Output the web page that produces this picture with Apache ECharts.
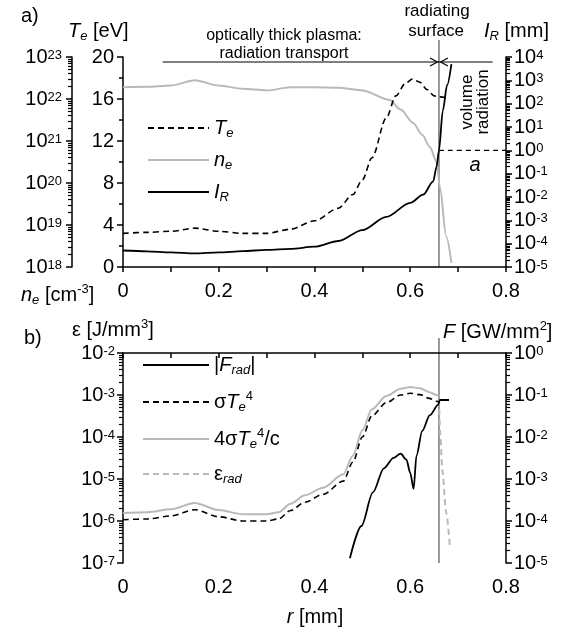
<!DOCTYPE html>
<html>
<head>
<meta charset="utf-8">
<script src="https://cdn.jsdelivr.net/npm/echarts@6/dist/echarts.min.js"></script>
<style>
html, body { margin: 0; padding: 0; background: #fff; }
#main { width: 579px; height: 635px; }
</style>
</head>
<body>
<div id="main"></div>
<script>
// ---- panel a) ----
const R_TE = [0, 0.05, 0.1, 0.15, 0.2, 0.25, 0.3, 0.35, 0.4, 0.45, 0.48, 0.5, 0.52, 0.55, 0.57, 0.59, 0.605, 0.62, 0.635, 0.65, 0.66, 0.682];
const TE = [3.2, 3.3, 3.4, 3.7, 3.4, 3.2, 3.2, 3.6, 4.4, 5.6, 6.9, 8.3, 10.4, 14.2, 16.3, 17.5, 17.9, 17.6, 16.9, 16.3, 16.2, 16.1];

const R_NE = [0, 0.05, 0.1, 0.15, 0.2, 0.25, 0.3, 0.35, 0.4, 0.45, 0.5, 0.557, 0.58, 0.606, 0.625, 0.641, 0.655, 0.662, 0.675, 0.686];
const NE = [1.9e22, 1.95e22, 2.1e22, 2.8e22, 2.1e22, 1.75e22, 1.6e22, 1.9e22, 1.9e22, 1.85e22, 1.6e22, 9.5e21, 5.6e21, 2.7e21, 1.4e21, 7.2e20, 3.2e20, 7.9e19, 5.4e18, 1.25e18];

const R_IR = [0, 0.05, 0.1, 0.15, 0.2, 0.25, 0.3, 0.35, 0.4, 0.45, 0.5, 0.55, 0.6, 0.627, 0.648, 0.655, 0.66, 0.668, 0.677, 0.686];
const IR = [5.1e-5, 4.7e-5, 4.2e-5, 3.8e-5, 4.2e-5, 4.8e-5, 5.4e-5, 6e-5, 7.4e-5, 1.3e-4, 3.8e-4, 1.4e-3, 5.6e-3, 1.26e-2, 4.7e-2, 0.2, 1.0, 50, 630, 5000];

const A_R = [0.66, 0.8];
const A_IR = [1, 1];

// ---- panel b) ----
const R_SIG = [0, 0.05, 0.1, 0.15, 0.2, 0.25, 0.3, 0.325, 0.35, 0.38, 0.418, 0.46, 0.48, 0.5, 0.52, 0.55, 0.58, 0.6, 0.62, 0.64, 0.655, 0.66];
const SIG_T4 = [1.07e-6, 1.12e-6, 1.32e-6, 1.86e-6, 1.26e-6, 1.0e-6, 1.0e-6, 1.12e-6, 1.78e-6, 2.8e-6, 4.3e-6, 8.9e-6, 2.5e-5, 1e-4, 3.2e-4, 6.6e-4, 1e-3, 1.1e-3, 1.02e-3, 8.3e-4, 7.1e-4, 6.8e-4];
const SIG_T4_C = [1.55e-6, 1.62e-6, 1.9e-6, 2.7e-6, 1.82e-6, 1.45e-6, 1.45e-6, 1.62e-6, 2.57e-6, 4.1e-6, 6.2e-6, 1.29e-5, 3.6e-5, 1.45e-4, 4.6e-4, 9.5e-4, 1.41e-3, 1.55e-3, 1.45e-3, 1.17e-3, 1.0e-3, 9.3e-4];

const R_FRAD = [0.474, 0.498, 0.522, 0.545, 0.565, 0.58, 0.592, 0.6, 0.607, 0.613, 0.625, 0.641, 0.658, 0.662, 0.681];
const FRAD = [1.3e-5, 7.6e-5, 4.8e-4, 1.8e-3, 3.2e-3, 4e-3, 2.9e-3, 1.4e-3, 5.8e-4, 3.6e-3, 1.4e-2, 3.3e-2, 5.8e-2, 7.6e-2, 7.6e-2];

const R_ERAD = [0.66, 0.663, 0.667, 0.675, 0.683];
const ERAD = [7.9e-4, 1e-4, 1.6e-5, 1.6e-6, 2.3e-7];

// axis ticks (exponents for log axes)
const X_TICKS = [0, 0.2, 0.4, 0.6, 0.8];
const NE_EXP = [18, 19, 20, 21, 22, 23];
const IR_EXP = [-5, -4, -3, -2, -1, 0, 1, 2, 3, 4];
const EPS_EXP = [-7, -6, -5, -4, -3, -2];
const F_EXP = [-5, -4, -3, -2, -1, 0];

const SURFACE_R = 0.66;
const ARROW_R = [0.083, 0.772];

const FONT = '"Liberation Sans", Arial, sans-serif';
const GRAY = '#b9b9b9';

const chart = echarts.init(document.getElementById('main'));

function zip(xs, ys) { return xs.map((x, i) => [x, ys[i]]); }

function minorOf(exps) {
  let out = [];
  for (let i = 0; i < exps.length - 1; i++) {
    for (let m = 2; m <= 9; m++) out.push(exps[i] + Math.log10(m));
  }
  return out;
}

const rich = {
  i: { fontStyle: 'italic', fontSize: 20, lineHeight: 24, fontFamily: FONT },
  sb: { fontStyle: 'italic', fontSize: 13, lineHeight: 13, verticalAlign: 'bottom', fontFamily: FONT },
  sp: { fontSize: 13, lineHeight: 13, verticalAlign: 'top', fontFamily: FONT },
  n: { fontSize: 20, lineHeight: 24, fontFamily: FONT }
};
// tighter version for tick labels
const richTick = {
  n: { fontSize: 20, lineHeight: 17, fontFamily: FONT },
  sp: { fontSize: 13, lineHeight: 10, verticalAlign: 'top', fontFamily: FONT }
};

const lineBlack = { color: '#000', width: 1.5 };

function xAx(gi) {
  return {
    type: 'value', gridIndex: gi, min: 0, max: 0.8, interval: 0.1,
    axisLine: { lineStyle: lineBlack },
    axisTick: { length: 5, lineStyle: lineBlack },
    splitLine: { show: false },
    axisLabel: {
      margin: 14, fontSize: 20, color: '#000', fontFamily: FONT,
      formatter: v => {
        let k = Math.round(v * 10);
        if (k % 2 !== 0) return '';
        return X_TICKS.indexOf(k / 10) >= 0 ? (k === 0 ? '0' : (k / 10).toFixed(1)) : '';
      }
    }
  };
}

// label axis in exponent space (linear) + a minor tick overlay
function expAxes(gi, pos, offset, exps, margin) {
  const lab = {
    type: 'value', gridIndex: gi, position: pos, offset: offset,
    min: exps[0], max: exps[exps.length - 1], interval: 1,
    axisLine: { show: true, lineStyle: lineBlack },
    axisTick: { show: true, length: 6, lineStyle: lineBlack },
    splitLine: { show: false },
    axisLabel: {
      margin: margin, color: '#000', fontSize: 20, lineHeight: 17, fontFamily: FONT,
      interval: 0, showMinLabel: true, showMaxLabel: true, hideOverlap: false,
      formatter: v => '{n|10}{sp|' + Math.round(v) + '}', rich: richTick
    }
  };
  const minor = minorOf(exps);
  const mnr = {
    type: 'value', gridIndex: gi, position: pos, offset: offset,
    min: exps[0], max: exps[exps.length - 1],
    axisLine: { show: false },
    axisTick: { show: true, length: 4, customValues: minor, lineStyle: { color: '#000', width: 1.2 } },
    axisLabel: { show: false, customValues: minor },
    splitLine: { show: false }
  };
  return [lab, mnr];
}

function logAx(gi, pos, exps) {
  return {
    type: 'log', gridIndex: gi, position: pos, show: false,
    min: Math.pow(10, exps[0]), max: Math.pow(10, exps[exps.length - 1])
  };
}

const yAxes = [
  {
    type: 'value', gridIndex: 0, position: 'left', min: 0, max: 20, interval: 4,
    axisLine: { show: true, lineStyle: lineBlack },
    axisTick: { length: 6, lineStyle: lineBlack },
    minorTick: { show: true, splitNumber: 2, length: 4, lineStyle: lineBlack },
    splitLine: { show: false },
    axisLabel: { margin: 9, color: '#000', fontSize: 20, fontFamily: FONT }
  },
  logAx(0, 'left', NE_EXP),                    // 1 ne data
  ...expAxes(0, 'left', 51, NE_EXP, 10),       // 2,3
  logAx(0, 'right', IR_EXP),                   // 4 IR data
  ...expAxes(0, 'right', 0, IR_EXP, 8),        // 5,6
  logAx(1, 'left', EPS_EXP),                   // 7 eps data
  ...expAxes(1, 'left', 0, EPS_EXP, 8),        // 8,9
  logAx(1, 'right', F_EXP),                    // 10 F data
  ...expAxes(1, 'right', 0, F_EXP, 8)          // 11,12
];

const DASH = [6, 4];

const legendNames = {
  Te: '{i|T}{sb|e}',
  ne: '{i|n}{sb|e}',
  IR: '{i|I}{sb|R}',
  Frad: '{n||}{i|F}{sb|rad}{n||}',
  sT4: '{n|σ}{i|T}{sb|e}{sp|4}',
  sT4c: '{n|4σ}{i|T}{sb|e}{sp|4}{n|/c}',
  erad: '{n|ε}{sb|rad}'
};

function line(name, xi, yi, data, color, width, dash, z) {
  return {
    name: name, type: 'line', xAxisIndex: xi, yAxisIndex: yi, data: data,
    symbol: 'none', smooth: 0.3, smoothMonotone: 'x', z: z || 2,
    lineStyle: { color: color, width: width, type: dash || 'solid' },
    itemStyle: { color: color },
    emphasis: { disabled: true }
  };
}

const legendBase = {
  orient: 'vertical', selectedMode: false,
  itemStyle: { opacity: 0 },
  formatter: n => legendNames[n],
  textStyle: { color: '#000', fontSize: 20, fontFamily: FONT, rich: rich }
};

chart.setOption({
  animation: false,
  textStyle: { fontFamily: FONT },
  grid: [
    { left: 123, top: 57, width: 383, height: 210 },
    { left: 123, top: 353, width: 383, height: 210 }
  ],
  xAxis: [xAx(0), xAx(1)],
  yAxis: yAxes,
  legend: [
    Object.assign({ data: ['Te', 'ne', 'IR'], left: 142, top: 113, itemWidth: 61, itemHeight: 20, itemGap: 10 }, legendBase),
    Object.assign({ data: ['Frad', 'sT4', 'sT4c', 'erad'], left: 137, top: 350, itemWidth: 66, itemHeight: 20, itemGap: 13 }, legendBase)
  ],
  series: [
    line('ne', 0, 1, zip(R_NE, NE), GRAY, 2, null, 1),
    line('Te', 0, 0, zip(R_TE, TE), '#000', 1.6, DASH),
    line('IR', 0, 4, zip(R_IR, IR), '#000', 1.8),
    line('a', 0, 4, zip(A_R, A_IR), '#000', 1.2, [5, 4]),
    line('sT4c', 1, 7, zip(R_SIG, SIG_T4_C), GRAY, 2, null, 1),
    line('erad', 1, 7, zip(R_ERAD, ERAD), GRAY, 2, DASH, 1),
    line('sT4', 1, 7, zip(R_SIG, SIG_T4), '#000', 1.6, DASH),
    line('Frad', 1, 10, zip(R_FRAD, FRAD), '#000', 1.8)
  ]
});

// annotations, placed from the axes
const xs = chart.convertToPixel({ xAxisIndex: 0 }, SURFACE_R);
const xa0 = chart.convertToPixel({ xAxisIndex: 0 }, ARROW_R[0]);
const xa1 = chart.convertToPixel({ xAxisIndex: 0 }, ARROW_R[1]);
const yArrow = 62;
const thin = { stroke: '#333', lineWidth: 1, fill: null };
const txt = (x, y, text, size, extra) => ({
  type: 'text', x: x, y: y,
  style: Object.assign({ text: text, fontSize: size, fontFamily: FONT, fill: '#000', rich: rich, verticalAlign: 'middle' }, extra || {})
});

chart.setOption({
  graphic: [
    { type: 'line', shape: { x1: xs, y1: 40, x2: xs, y2: 267 }, style: thin, z: 0 },
    { type: 'line', shape: { x1: xs, y1: 338, x2: xs, y2: 563 }, style: thin, z: 0 },
    { type: 'line', shape: { x1: xa0, y1: yArrow, x2: xa1, y2: yArrow }, style: { stroke: '#000', lineWidth: 1.2 } },
    { type: 'polyline', shape: { points: [[xs - 9, yArrow - 4], [xs - 1.5, yArrow], [xs - 9, yArrow + 4]] }, style: { stroke: '#000', lineWidth: 1.2, fill: null } },
    { type: 'polyline', shape: { points: [[xs + 9, yArrow - 4], [xs + 1.5, yArrow], [xs + 9, yArrow + 4]] }, style: { stroke: '#000', lineWidth: 1.2, fill: null } },
    txt(21, 16, 'a)', 20),
    txt(68, 31, '{i|T}{sb|e}{n| [eV]}', 20),
    txt(284, 36, 'optically thick plasma:', 16, { align: 'center' }),
    txt(284, 54, 'radiation transport', 16, { align: 'center' }),
    txt(437, 11, 'radiating', 17, { align: 'center' }),
    txt(436, 31, 'surface', 17, { align: 'center' }),
    txt(484, 31, '{i|I}{sb|R}{n| [mm]}', 20),
    { type: 'text', x: 475, y: 102, rotation: Math.PI / 2,
      style: { text: 'volume\nradiation', fontSize: 17, lineHeight: 16, fontFamily: FONT, fill: '#000', align: 'center', verticalAlign: 'middle' } },
    txt(475, 165, '{i|a}', 20, { align: 'center' }),
    txt(21, 295, '{i|n}{sb|e}{n| [cm}{sp|-3}{n|]}', 20),
    txt(24, 338, 'b)', 20),
    txt(72, 330, '{n|ε [J/mm}{sp|3}{n|]}', 20),
    txt(443, 332, '{i|F}{n| [GW/mm}{sp|2}{n|]}', 20),
    txt(315, 617, '{i|r}{n| [mm]}', 20, { align: 'center' })
  ]
});
</script>
</body>
</html>
